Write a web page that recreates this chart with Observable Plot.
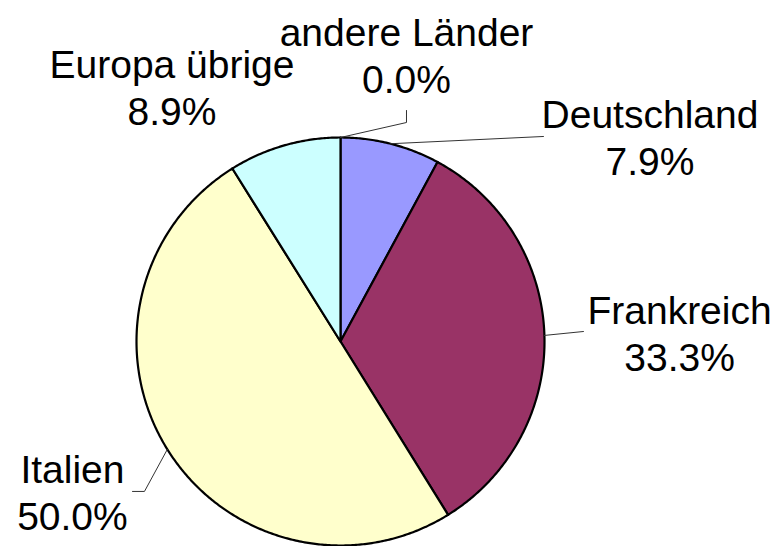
<!DOCTYPE html>
<html>
<head>
<meta charset="utf-8">
<script src="https://cdn.jsdelivr.net/npm/d3@7"></script>
<script src="https://cdn.jsdelivr.net/npm/@observablehq/plot@0.6"></script>
<style>
  html, body { margin: 0; padding: 0; background: #ffffff; }
  #chart { width: 780px; height: 546px; }
</style>
</head>
<body>
<div id="chart"></div>
<script>
// ---- data ----
const categories = ["Deutschland", "Frankreich", "Italien", "Europa übrige", "andere Länder"];
const shares = [7.9, 33.3, 50.0, 8.9, 0.0];
const shareLabels = ["7.9%", "33.3%", "50.0%", "8.9%", "0.0%"];
const colors = ["#9999FF", "#993366", "#FFFFCC", "#CCFFFF", "#FFFFFF"];

// ---- layout (unit-circle coordinates: pie radius = 1) ----
const labelX = { "Deutschland": 1.517, "Frankreich": 1.662, "Italien": -1.314, "Europa übrige": -0.826, "andere Länder": 0.3235 };
const labelY = { "Deutschland": 1.003, "Frankreich": 0.045, "Italien": -0.737, "Europa übrige": 1.251, "andere Länder": 1.408 };
// leader line elbows after the slice-edge point
const leaderPts = {
  "Deutschland": [[0.995, 1.005]],
  "Frankreich": [[1.191, 0.049]],
  "Italien": [[-0.961, -0.735], [-1.0196, -0.735]],
  "andere Länder": [[0.3235, 1.0735], [0.3235, 1.1324]]
};

// ---- build slices with d3.pie (clockwise from 12 o'clock) ----
const arcs = d3.pie().sort(null).value(d => d)(shares);
const slices = arcs.map((a, i) => {
  const pts = [{x: 0, y: 0}];
  const steps = Math.max(2, Math.ceil((a.endAngle - a.startAngle) / (Math.PI / 360)));
  for (let k = 0; k <= steps; k++) {
    const t = a.startAngle + (a.endAngle - a.startAngle) * k / steps;
    pts.push({x: Math.sin(t), y: Math.cos(t)});
  }
  pts.push({x: 0, y: 0});
  return {name: categories[i], color: colors[i], pts, mid: (a.startAngle + a.endAngle) / 2, value: shares[i]};
});

const leaders = [];
slices.forEach(s => {
  const extra = leaderPts[s.name];
  if (!extra) return;
  leaders.push({name: s.name, x: Math.sin(s.mid), y: Math.cos(s.mid)});
  extra.forEach(p => leaders.push({name: s.name, x: p[0], y: p[1]}));
});

const labels = categories.map((c, i) => ({name: c, text: c + "\n" + shareLabels[i], x: labelX[c], y: labelY[c]}));

const sliceMarks = slices.filter(s => s.value > 0).map(s =>
  Plot.line(s.pts, {x: "x", y: "y", fill: s.color, stroke: "#000000", strokeWidth: 2.2, strokeLinejoin: "round", curve: "linear"})
);

const chart = Plot.plot({
  width: 780,
  height: 546,
  margin: 0,
  style: {background: "#ffffff", overflow: "visible"},
  x: {domain: [-340 / 204, 440 / 204], axis: null},
  y: {domain: [-205 / 204, 341 / 204], axis: null},
  marks: [
    ...sliceMarks,
    Plot.line(leaders, {x: "x", y: "y", z: "name", stroke: "#333333", strokeWidth: 1}),
    Plot.text(labels, {
      x: "x", y: "y", text: "text",
      textAnchor: "middle", lineAnchor: "middle",
      fontSize: 39, lineHeight: 47 / 39,
      fontFamily: "'Liberation Sans', Arial, Helvetica, sans-serif",
      fill: "#000000"
    })
  ]
});
document.getElementById("chart").appendChild(chart);
</script>
</body>
</html>
